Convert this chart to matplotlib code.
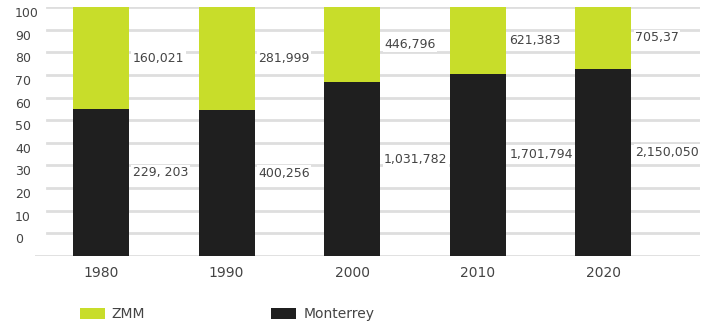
import matplotlib
matplotlib.use("Agg")
import matplotlib.pyplot as plt
from matplotlib.patches import Patch
import numpy as np

years = ["1980", "1990", "2000", "2010", "2020"]
monterrey = [229203, 400256, 1031782, 1701794, 2150050]
zmm = [160021, 281999, 446796, 621383, 705370]
monterrey_labels = ["229, 203", "400,256", "1,031,782", "1,701,794", "2,150,050"]
zmm_labels = ["160,021", "281,999", "446,796", "621,383", "705,37"]
tick_labels = ["0", "10", "20", "30", "40", "50", "60", "70", "80", "90", "100"]

green = "#c8dd2a"
dark = "#1f1f1f"
txt = "#444444"

plt.rcParams['font.family'] = ['DejaVu Sans']

fig = plt.figure(figsize=(7.04, 3.25), dpi=100)
ax = fig.add_axes([35 / 704, 1 - 256 / 325, 665 / 704, 249 / 325])

mon = np.array(monterrey, dtype=float)
zm = np.array(zmm, dtype=float)
tot = mon + zm
mon_pct = mon / tot * 100
zm_pct = zm / tot * 100
x = np.arange(len(years))
w = 0.446

# gridlines: 11 intervals over the full bar height
grid = np.linspace(0, 100, 12)
for i, g in enumerate(grid):
    x0 = 0 if i == 0 else 12 / 665
    ax.axhline(g, xmin=x0, xmax=1, color="#dedede", lw=2, zorder=0)

ax.bar(x, mon_pct, w, color=dark, zorder=2)
ax.bar(x, zm_pct, w, bottom=mon_pct, color=green, zorder=2)

for i in range(len(years)):
    xr = x[i] + w / 2 + 0.03
    ax.text(xr, mon_pct[i] / 2 + 4, monterrey_labels[i], ha="left", va="center",
            fontsize=9, color=txt, zorder=3,
            bbox=dict(facecolor="white", edgecolor="none", pad=1))
    ax.text(xr, mon_pct[i] + zm_pct[i] / 2, zmm_labels[i], ha="left", va="center",
            fontsize=9, color=txt, zorder=3,
            bbox=dict(facecolor="white", edgecolor="none", pad=1))

ax.set_xlim(-0.526, 4.77)
ax.set_ylim(0, 100)
ax.set_yticks(grid[1:])
ax.set_yticklabels(tick_labels)
for lab in ax.get_yticklabels():
    lab.set_verticalalignment("top")
    lab.set_horizontalalignment("left")
ax.set_xticks(x)
ax.set_xticklabels(years)
ax.tick_params(axis="both", length=0, colors=txt)
ax.tick_params(axis="x", pad=7, labelsize=10)
ax.tick_params(axis="y", pad=14.4, labelsize=9)
for s in ax.spines.values():
    s.set_visible(False)

handles = [Patch(facecolor=green, label="ZMM"), Patch(facecolor=dark, label="Monterrey")]
fig.legend(handles=handles, loc="center left", bbox_to_anchor=(67 / 704, 1 - 314 / 325),
           ncol=2, frameon=False, fontsize=10, labelcolor=txt, handlelength=1.8,
           handleheight=0.85, columnspacing=9.1, handletextpad=0.5)

fig.savefig("out.png", dpi=100)
